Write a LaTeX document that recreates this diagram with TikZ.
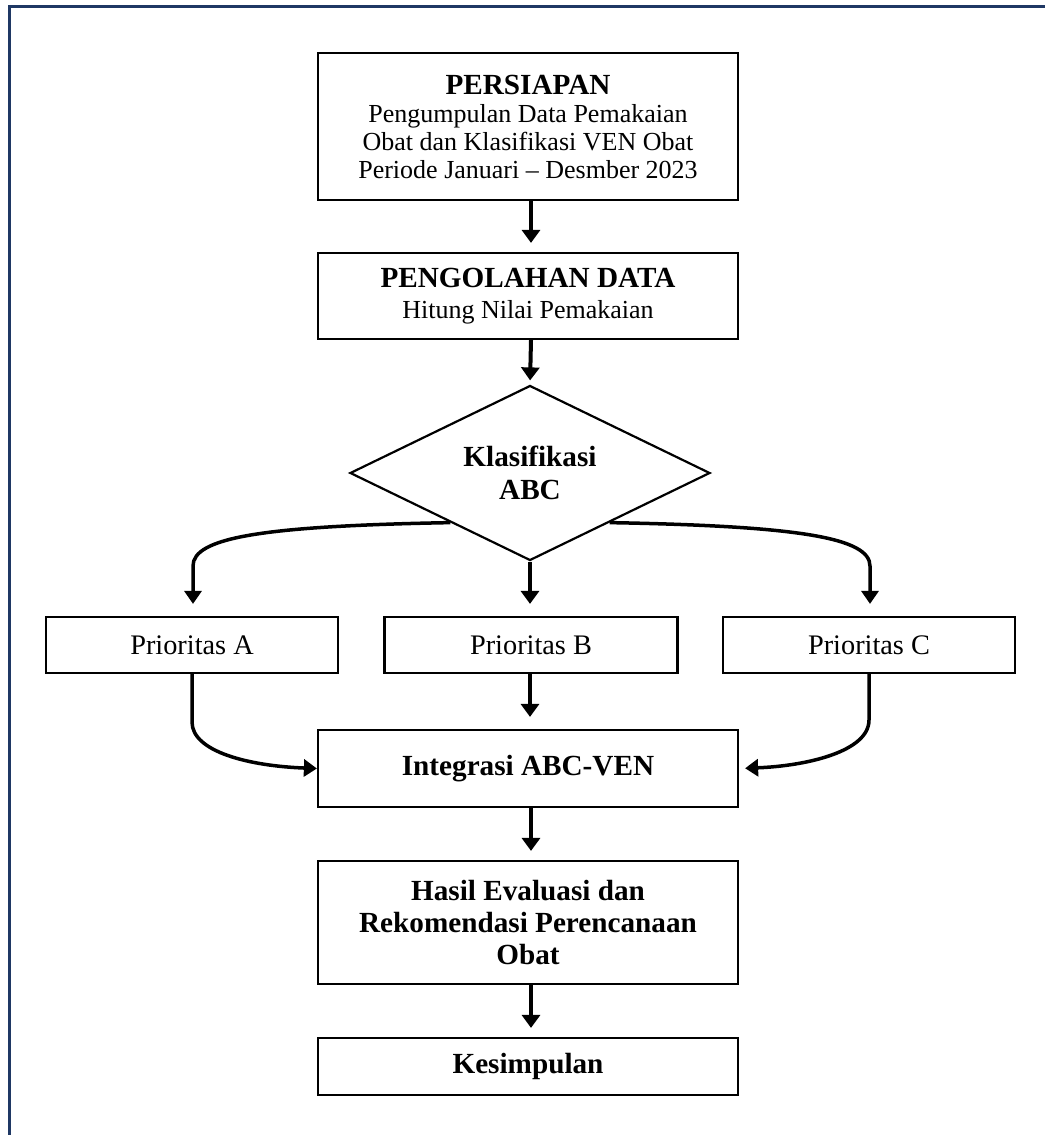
\documentclass[tikz,border=0pt]{standalone}
\usepackage{fontspec}
\setmainfont{Liberation Serif}
\usetikzlibrary{shapes.geometric,arrows.meta,calc}
\definecolor{framenavy}{HTML}{1F3864}
\newcommand{\headtxt}[1]{{\fontsize{29.2}{30}\selectfont\bfseries #1}}
\begin{document}
\begin{tikzpicture}[x=1pt,y=-1pt,
  box/.style={draw=black,line width=2.2pt,fill=white,inner sep=0pt,align=center,
    font=\fontsize{26}{28}\selectfont},
  boldbox/.style={box,font=\fontsize{29.2}{32.5}\selectfont\bfseries},
  flow/.style={line width=4pt,-{Triangle[length=13pt,width=18pt]},shorten >=9pt},
  curv/.style={line width=3.5pt,-{Triangle[length=13pt,width=17pt]}}]
\useasboundingbox (0,0) rectangle (1045,1135);
\fill[white] (0,0) rectangle (1045,1135);
\draw[framenavy,line width=3pt] (9,1135) -- (9,6) -- (1045,6);

\node[box,minimum width=420pt,minimum height=147pt] (prep) at (528,126.5)
  {\headtxt{PERSIAPAN}\\Pengumpulan Data Pemakaian\\Obat dan Klasifikasi VEN Obat\\Periode Januari – Desmber 2023};
\node[box,font=\fontsize{26}{31}\selectfont,minimum width=420pt,minimum height=86pt] (proc) at (528,296)
  {\headtxt{PENGOLAHAN DATA}\\Hitung Nilai Pemakaian};
\node[draw=black,line width=2.2pt,diamond,shape aspect=2,inner sep=0pt,
  minimum width=360pt,minimum height=175pt,align=center,
  font=\fontsize{29.2}{33}\selectfont\bfseries] (dia) at (530,473)
  {Klasifikasi\\ABC};
\node[box,font=\fontsize{28.3}{30}\selectfont,minimum width=292pt,minimum height=56pt] (pA) at (192,645) {Prioritas A};
\node[box,font=\fontsize{28.3}{30}\selectfont,minimum width=293pt,minimum height=56pt] (pB) at (531,645) {Prioritas B};
\node[box,font=\fontsize{28.3}{30}\selectfont,minimum width=292pt,minimum height=56pt] (pC) at (869,645) {Prioritas C};
\node[boldbox,minimum width=420pt,minimum height=77pt] (intg) at (528,768.5) {Integrasi ABC-VEN};
\node[boldbox,minimum width=420pt,minimum height=123pt] (hasil) at (528,922.5)
  {Hasil Evaluasi dan\\Rekomendasi Perencanaan\\Obat};
\node[boldbox,minimum width=420pt,minimum height=57pt] (kes) at (528,1066.5) {Kesimpulan};

\draw[flow] ([xshift=3pt]prep.south) -- ([xshift=3pt]prep.south |- proc.north);
\draw[flow,shorten >=4pt] ([xshift=3pt]proc.south) -- (dia.north);
\draw[flow,shorten >=12pt] (dia.south) -- (dia.south |- pB.north);
\draw[flow,shorten >=12pt] ([xshift=-1pt]pB.south) -- ([xshift=-1pt]pB.south |- intg.north);
\draw[flow] ([xshift=3pt]intg.south) -- ([xshift=3pt]intg.south |- hasil.north);
\draw[flow] ([xshift=3pt]hasil.south) -- ([xshift=3pt]hasil.south |- kes.north);

\coordinate (dl) at ($(dia.west)!0.56!(dia.south)$);
\coordinate (dr) at ($(dia.east)!0.56!(dia.south)$);
\draw[curv,shorten >=12pt] (dl) .. controls (260,526) and (193,538) .. (193,566) -- (pA.north -| 193,0);
\draw[curv,shorten >=12pt] (dr) .. controls (800,526) and (870,538) .. (870,566) -- (pC.north -| 870,0);

\draw[curv] (pA.south) -- (192,722) .. controls (192,752) and (250,766) .. (intg.west);
\draw[curv,shorten >=6pt] (pC.south) -- (869,720) .. controls (869,752) and (805,766) .. (intg.east);
\end{tikzpicture}
\end{document}
